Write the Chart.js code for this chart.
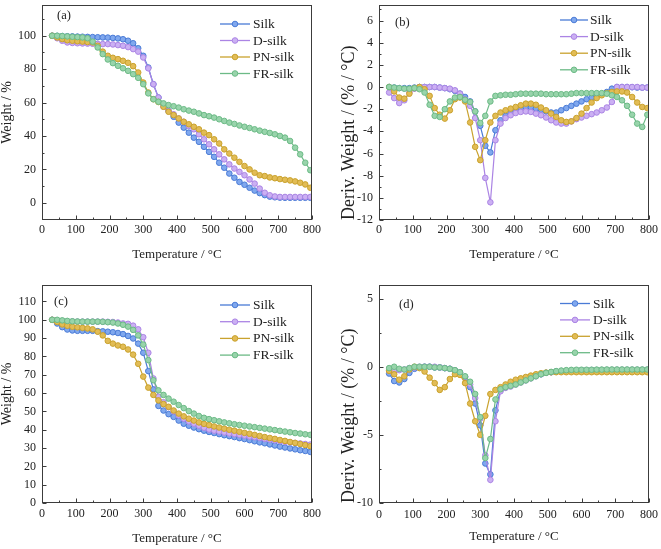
<!DOCTYPE html>
<html>
<head>
<meta charset="utf-8">
<script src="https://cdn.jsdelivr.net/npm/chart.js@4.4.1/dist/chart.umd.min.js"></script>
<style>
  html, body { margin: 0; padding: 0; background: #fff; }
  #wrap { position: relative; width: 661px; height: 549px; }
  #wrap canvas { position: absolute; display: block; }
</style>
</head>
<body>
<div id="wrap">
  <canvas id="chartA" width="330" height="270" style="left:0;top:0"></canvas>
  <canvas id="chartB" width="331" height="270" style="left:330px;top:0"></canvas>
  <canvas id="chartC" width="330" height="279" style="left:0;top:270px"></canvas>
  <canvas id="chartD" width="331" height="279" style="left:330px;top:270px"></canvas>
</div>
<script>
// ---- data ----
const temps = [30, 45, 60, 75, 90, 105, 120, 135, 150, 165, 180, 195, 210, 225, 240, 255, 270, 285, 300, 315,
  330, 345, 360, 375, 390, 405, 420, 435, 450, 465, 480, 495, 510, 525, 540, 555, 570, 585, 600, 615,
  630, 645, 660, 675, 690, 705, 720, 735, 750, 765, 780, 795];
const seriesNames = ['Silk', 'D-silk', 'PN-silk', 'FR-silk'];

// (a) TG, weight %
const tgSilkA = [100, 99.9, 99.8, 99.7, 99.6, 99.5, 99.4, 99.3, 99.2, 99.1, 99, 98.9, 98.7, 98.4, 97.9, 97, 95.5, 92.5, 88, 81,
  71, 63, 59, 55, 51.5, 48, 45, 42, 39, 36.5, 33.5, 30.5, 27.5, 24, 21, 17.5, 15, 12.5, 10.8, 9,
  7.3, 5.8, 4.6, 3.7, 3.3, 3.1, 3, 3, 3, 3, 3, 3];
const tgDSilkA = [100, 98.5, 97, 96, 95.7, 95.5, 95.4, 95.3, 95.2, 95.1, 95, 95, 94.8, 94.4, 94, 93.2, 92, 90.5, 87, 80.5,
  71, 63, 57.5, 55, 53, 50.5, 48.5, 46, 44, 41, 38, 35, 32, 29, 26, 23, 20.5, 18.5, 16.5, 14,
  11.5, 8.5, 6, 4.5, 3.8, 3.5, 3.5, 3.5, 3.5, 3.5, 3.5, 3.5];
const tgPNSilkA = [100, 99, 98, 97.3, 97, 96.7, 96.5, 96.2, 96, 94, 90.5, 88, 86.8, 86, 85, 83.8, 81.8, 78, 72, 66,
  62, 60.3, 57.5, 54.5, 52.5, 50.5, 48.5, 47, 45.5, 44, 42, 40.5, 38, 35.5, 32, 29.5, 27, 24.5, 22, 20,
  18, 16.5, 16, 15.2, 14.7, 14.2, 13.8, 13.4, 12.8, 12, 11, 9];
const tgFRSilkA = [100, 100, 99.8, 99.6, 99.4, 99.2, 99, 98.5, 96.5, 93, 89, 85.8, 83.6, 82, 80.5, 79, 77, 74.8, 71, 65.5,
  62, 60.5, 59.5, 58.5, 57.8, 57, 56, 55.2, 54.5, 53.5, 52.5, 51.8, 51, 50, 49, 48, 47.2, 46.3, 45.5, 44.8,
  44, 43.2, 42.5, 41.8, 41, 40, 39, 37, 33, 29, 24, 19.5];

// (b) DTG, %/°C
const dtgSilkB = [0, -0.05, -0.1, -0.1, -0.1, -0.05, 0, 0, 0, 0, -0.05, -0.1, -0.2, -0.35, -0.6, -0.9, -1.3, -2.2, -3.5, -5.3,
  -5.9, -3.9, -3.0, -2.6, -2.3, -2.1, -1.95, -1.85, -1.85, -1.95, -2.05, -2.2, -2.3, -2.3, -2.1, -1.9, -1.7, -1.5, -1.3, -1.1,
  -0.95, -0.8, -0.65, -0.45, -0.15, 0, 0, 0, -0.02, -0.05, -0.05, -0.05];
const dtgDSilkB = [-0.5, -1.0, -1.45, -1.2, -0.5, -0.15, 0, 0, 0, 0, -0.05, -0.1, -0.15, -0.3, -0.6, -1.1, -1.7, -2.8, -4.8, -8.2,
  -10.4, -4.8, -3.3, -2.8, -2.55, -2.35, -2.25, -2.2, -2.25, -2.4, -2.55, -2.75, -3.0, -3.2, -3.3, -3.3, -3.1, -2.9, -2.75, -2.6,
  -2.45, -2.3, -2.1, -1.85, -1.35, 0, 0, 0, 0, 0, -0.05, -0.05];
const dtgPNSilkB = [0, -0.4, -0.95, -1.05, -0.6, -0.1, 0, -0.2, -0.8, -1.9, -2.5, -2.85, -2.1, -1.1, -0.95, -1.3, -3.2, -5.4, -6.6, -4.8,
  -3.2, -2.6, -2.3, -2.1, -1.95, -1.8, -1.65, -1.5, -1.5, -1.6, -1.85, -2.1, -2.4, -2.7, -3.0, -3.15, -3.1, -2.8, -2.4, -1.9,
  -1.4, -1.0, -0.75, -0.55, -0.45, -0.4, -0.4, -0.5, -0.9, -1.4, -1.8, -1.9];
const dtgFRSilkB = [0, -0.05, -0.1, -0.15, -0.15, -0.1, -0.2, -0.5, -1.6, -2.6, -2.7, -2.0, -1.3, -0.95, -0.9, -1.15, -1.35, -2.2, -3.25, -2.6,
  -1.3, -0.8, -0.75, -0.7, -0.7, -0.65, -0.6, -0.6, -0.6, -0.6, -0.6, -0.65, -0.65, -0.65, -0.65, -0.65, -0.6, -0.55, -0.55, -0.55,
  -0.55, -0.55, -0.55, -0.6, -0.75, -0.9, -1.2, -1.7, -2.5, -3.3, -3.6, -2.5];

// (c) TG, weight %
const tgSilkC = [100, 98, 96, 94.7, 94.2, 94, 94, 94, 94, 93.8, 93.7, 93.5, 93.2, 92.8, 92.2, 91.2, 89.8, 87, 82, 72,
  62, 53, 50.5, 48.5, 47, 45, 43.3, 42.2, 41.2, 40.3, 39.5, 38.8, 38.2, 37.6, 37, 36.5, 36, 35.4, 34.9, 34.3,
  33.7, 33.1, 32.6, 32, 31.4, 30.8, 30.3, 29.8, 29.3, 28.8, 28.4, 27.9];
const tgDSilkC = [100, 99.7, 99.4, 99.2, 99.1, 99, 99, 99, 99, 99, 99, 98.9, 98.8, 98.5, 98, 97.8, 96.8, 94.8, 90.5, 82,
  68, 58, 55, 52.3, 50, 47.8, 46, 44.5, 43.3, 42.2, 41.1, 40.1, 39.5, 39, 38.5, 38, 37.6, 37.2, 36.8, 36.3,
  35.9, 35.5, 35, 34.6, 34.2, 33.8, 33.4, 33.1, 32.8, 32.5, 32.2, 31.9];
const tgPNSilkC = [100, 98.8, 97.5, 96.7, 96.2, 95.9, 95.6, 95.3, 94.8, 93.5, 91.5, 88.5, 87, 86, 85.3, 83.8, 81, 76, 69, 63,
  59, 56, 54, 52.5, 50.5, 48.8, 47.3, 46, 45, 44, 43.2, 42.5, 41.8, 41.2, 40.6, 40, 39.5, 38.9, 38.3, 37.8,
  37.2, 36.6, 36, 35.5, 35, 34.4, 33.9, 33.3, 32.8, 32.2, 31.6, 31];
const tgFRSilkC = [100, 100, 99.7, 99.4, 99.2, 99.1, 99, 99, 99, 99, 98.9, 98.7, 98.5, 98, 97.3, 96.3, 94.5, 91.5, 86.5, 78,
  67, 61.5, 59, 57, 55.3, 53.5, 51.8, 50.2, 48.8, 47.5, 46.5, 45.8, 45.2, 44.6, 44, 43.5, 43, 42.6, 42.2, 41.8,
  41.4, 41, 40.6, 40.2, 39.8, 39.4, 39, 38.6, 38.2, 37.9, 37.5, 37.2];

// (d) DTG, %/°C
const dtgSilkD = [-0.5, -1.05, -1.15, -0.9, -0.45, -0.15, -0.05, 0, 0, -0.05, -0.05, -0.1, -0.15, -0.3, -0.45, -0.75, -1.5, -2.7, -4.3, -7.1,
  -7.9, -3.2, -1.7, -1.5, -1.35, -1.25, -1.1, -0.95, -0.8, -0.65, -0.55, -0.45, -0.4, -0.35, -0.32, -0.3, -0.28, -0.27, -0.26, -0.26,
  -0.25, -0.25, -0.25, -0.25, -0.25, -0.25, -0.25, -0.25, -0.25, -0.25, -0.25, -0.25];
const dtgDSilkD = [-0.3, -0.3, -0.25, -0.2, -0.1, -0.05, 0, 0, 0, 0, -0.05, -0.1, -0.15, -0.25, -0.4, -0.75, -1.3, -2.3, -3.8, -6.5,
  -8.3, -4.0, -1.8, -1.55, -1.45, -1.3, -1.15, -1.0, -0.85, -0.7, -0.55, -0.45, -0.4, -0.35, -0.32, -0.3, -0.28, -0.27, -0.26, -0.25,
  -0.25, -0.24, -0.24, -0.23, -0.23, -0.22, -0.22, -0.22, -0.22, -0.22, -0.22, -0.22];
const dtgPNSilkD = [-0.3, -0.55, -0.95, -0.7, -0.2, 0, -0.1, -0.35, -0.8, -1.2, -1.7, -1.5, -0.9, -0.55, -0.6, -1.2, -2.7, -4.0, -5.0, -3.6,
  -2.0, -1.7, -1.5, -1.3, -1.1, -0.95, -0.85, -0.75, -0.65, -0.55, -0.48, -0.43, -0.4, -0.4, -0.4, -0.4, -0.4, -0.4, -0.4, -0.4,
  -0.4, -0.4, -0.4, -0.4, -0.4, -0.4, -0.4, -0.4, -0.4, -0.4, -0.4, -0.4];
const dtgFRSilkD = [-0.1, 0, -0.15, -0.2, -0.1, 0, 0, 0, 0, -0.05, -0.05, -0.1, -0.15, -0.25, -0.4, -0.7, -1.1, -2.0, -3.7, -6.7,
  -5.3, -2.4, -1.65, -1.5, -1.4, -1.3, -1.15, -1.0, -0.85, -0.7, -0.55, -0.45, -0.38, -0.32, -0.28, -0.25, -0.23, -0.22, -0.22, -0.22,
  -0.22, -0.21, -0.21, -0.2, -0.2, -0.2, -0.2, -0.2, -0.2, -0.2, -0.2, -0.2];

// tick labels
const xTicks = [0, 100, 200, 300, 400, 500, 600, 700, 800];
const yTicksA = [0, 20, 40, 60, 80, 100];
const yTicksB = [-12, -10, -8, -6, -4, -2, 0, 2, 4, 6];
const yTicksC = [0, 10, 20, 30, 40, 50, 60, 70, 80, 90, 100, 110];
const yTicksD = [-10, -5, 0, 5];

// ---- styles ----
const FONT = "'Liberation Serif', 'Times New Roman', serif";
const TEXT = '#222';
const palette = [
  { line: '#4a7bd6', fill: '#80a8ee' },
  { line: '#ab84e4', fill: '#cbb0f3' },
  { line: '#c9a22e', fill: '#e2bc55' },
  { line: '#6cba86', fill: '#98d4ab' }
];

Chart.defaults.font.family = FONT;
Chart.defaults.color = TEXT;

// frame, inward ticks, legend and panel tag
const decorPlugin = {
  id: 'decor',
  afterDraw(chart, args, opts) {
    const { ctx, chartArea: a } = chart;
    const xs = chart.scales.x, ys = chart.scales.y;
    const L = Math.round(a.left) + 0.5, R = Math.round(a.right) - 0.5;
    const T = Math.round(a.top) + 0.5, B = Math.round(a.bottom) - 0.5;
    ctx.save();
    ctx.strokeStyle = '#3c3c3c';
    ctx.lineWidth = 1;
    ctx.strokeRect(L, T, R - L, B - T);

    const seg = (x1, y1, x2, y2) => { ctx.beginPath(); ctx.moveTo(x1, y1); ctx.lineTo(x2, y2); ctx.stroke(); };
    const minorVals = (scale, step) => {
      const out = [];
      if (!step) return out;
      for (let v = Math.ceil(scale.min / step) * step; v <= scale.max + 1e-9; v += step) {
        if (!scale.ticks.some(t => Math.abs(t.value - v) < 1e-9)) out.push(v);
      }
      return out;
    };
    xs.ticks.forEach(t => { const p = Math.round(xs.getPixelForValue(t.value)) + 0.5; seg(p, B, p, B - 4); });
    minorVals(xs, opts.xMinor).forEach(v => { const p = Math.round(xs.getPixelForValue(v)) + 0.5; seg(p, B, p, B - 2); });
    ys.ticks.forEach(t => { const p = Math.round(ys.getPixelForValue(t.value)) + 0.5; seg(L, p, L + 4, p); });
    minorVals(ys, opts.yMinor).forEach(v => { const p = Math.round(ys.getPixelForValue(v)) + 0.5; seg(L, p, L + 2, p); });

    // legend
    const lg = opts.legend;
    ctx.font = '13.5px ' + FONT;
    ctx.textBaseline = 'middle';
    ctx.textAlign = 'left';
    chart.data.datasets.forEach((ds, i) => {
      const yy = lg.y + i * lg.dy;
      ctx.strokeStyle = ds.borderColor;
      ctx.lineWidth = 1.3;
      seg(lg.x0, yy, lg.x1, yy);
      ctx.beginPath();
      ctx.arc((lg.x0 + lg.x1) / 2, yy, 2.8, 0, Math.PI * 2);
      ctx.fillStyle = ds.pointBackgroundColor;
      ctx.fill();
      ctx.lineWidth = 1;
      ctx.strokeStyle = ds.pointBorderColor;
      ctx.stroke();
      ctx.fillStyle = TEXT;
      ctx.fillText(ds.label, lg.tx, yy + 0.5);
    });

    // panel tag
    ctx.font = '12.5px ' + FONT;
    ctx.fillStyle = TEXT;
    ctx.fillText(opts.tag.text, opts.tag.x, opts.tag.y);
    ctx.restore();
  }
};

function makePanel(id, series, cfg) {
  const datasets = series.map((vals, i) => ({
    label: seriesNames[i],
    data: temps.map((t, k) => ({ x: t, y: vals[k] })),
    borderColor: palette[i].line,
    backgroundColor: palette[i].fill,
    pointBackgroundColor: palette[i].fill,
    pointBorderColor: palette[i].line,
    pointBorderWidth: 1,
    pointRadius: 2.8,
    borderWidth: 1.2,
    tension: 0,
    order: series.length - 1 - i
  }));

  return new Chart(document.getElementById(id), {
    type: 'line',
    data: { datasets },
    options: {
      responsive: false,
      animation: false,
      layout: { padding: { top: cfg.top, right: cfg.right, left: 0, bottom: 0 } },
      plugins: {
        legend: { display: false },
        tooltip: { enabled: false },
        decor: { legend: cfg.legend, tag: cfg.tag, xMinor: 50, yMinor: cfg.yMinor }
      },
      scales: {
        x: {
          type: 'linear',
          min: 0,
          max: 800,
          afterBuildTicks: s => { s.ticks = xTicks.map(v => ({ value: v })); },
          afterFit: s => { s.height = cfg.xHeight; s.paddingLeft = 0; s.paddingRight = 0; },
          grid: { display: false, drawTicks: false },
          border: { display: false },
          ticks: { padding: cfg.xPad, maxRotation: 0, autoSkip: false, font: { size: 12 }, color: TEXT },
          title: {
            display: true,
            text: 'Temperature / \u00B0C',
            font: { size: 13, lineHeight: 1.2 },
            color: TEXT,
            padding: { top: 0, bottom: cfg.xTitlePad }
          }
        },
        y: {
          min: cfg.yMin,
          max: cfg.yMax,
          afterBuildTicks: s => { s.ticks = cfg.yTicks.map(v => ({ value: v })); },
          afterFit: s => { s.width = cfg.yWidth; s.paddingTop = 0; s.paddingBottom = 0; },
          grid: { display: false, drawTicks: false },
          border: { display: false },
          ticks: { padding: 6, autoSkip: false, font: { size: 12 }, color: TEXT },
          title: {
            display: true,
            text: cfg.yTitle,
            align: cfg.yTitleAlign,
            font: { size: cfg.yTitleSize, lineHeight: 1.2 },
            color: TEXT,
            padding: { top: cfg.yTitlePad, bottom: 0 }
          }
        }
      }
    },
    plugins: [decorPlugin]
  });
}

const weightTitle = 'Weight / %';
const derivTitle = 'Deriv. Weight / (% / \u00B0C)';

makePanel('chartA', [tgSilkA, tgDSilkA, tgPNSilkA, tgFRSilkA], {
  top: 3, right: 18, yWidth: 42, xHeight: 50, xPad: 3, xTitlePad: 8,
  yMin: -10.3, yMax: 118.4, yTicks: yTicksA, yMinor: 10,
  yTitle: weightTitle, yTitleSize: 14, yTitlePad: -1, yTitleAlign: 'center',
  legend: { x0: 220, x1: 250, tx: 253, y: 24, dy: 16.5 },
  tag: { text: '(a)', x: 57, y: 16 }
});

makePanel('chartB', [dtgSilkB, dtgDSilkB, dtgPNSilkB, dtgFRSilkB], {
  top: 3, right: 12, yWidth: 49, xHeight: 50, xPad: 3, xTitlePad: 8,
  yMin: -12, yMax: 7.4, yTicks: yTicksB, yMinor: 1,
  yTitle: derivTitle, yTitleSize: 18, yTitlePad: 8, yTitleAlign: 'start',
  legend: { x0: 230, x1: 258, tx: 260, y: 20, dy: 16.6 },
  tag: { text: '(b)', x: 65, y: 23 }
});

makePanel('chartC', [tgSilkC, tgDSilkC, tgPNSilkC, tgFRSilkC], {
  top: 15, right: 18, yWidth: 42, xHeight: 46, xPad: 3.5, xTitlePad: 3,
  yMin: 0, yMax: 119, yTicks: yTicksC, yMinor: 0,
  yTitle: weightTitle, yTitleSize: 14, yTitlePad: -1, yTitleAlign: 'center',
  legend: { x0: 220, x1: 250, tx: 253, y: 35, dy: 16.7 },
  tag: { text: '(c)', x: 54, y: 32 }
});

makePanel('chartD', [dtgSilkD, dtgDSilkD, dtgPNSilkD, dtgFRSilkD], {
  top: 15, right: 12, yWidth: 49, xHeight: 46, xPad: 5, xTitlePad: 4.5,
  yMin: -10, yMax: 6, yTicks: yTicksD, yMinor: 2.5,
  yTitle: derivTitle, yTitleSize: 18, yTitlePad: 8, yTitleAlign: 'start',
  legend: { x0: 230, x1: 260, tx: 263, y: 33.5, dy: 16.4 },
  tag: { text: '(d)', x: 69, y: 35 }
});
</script>
</body>
</html>
